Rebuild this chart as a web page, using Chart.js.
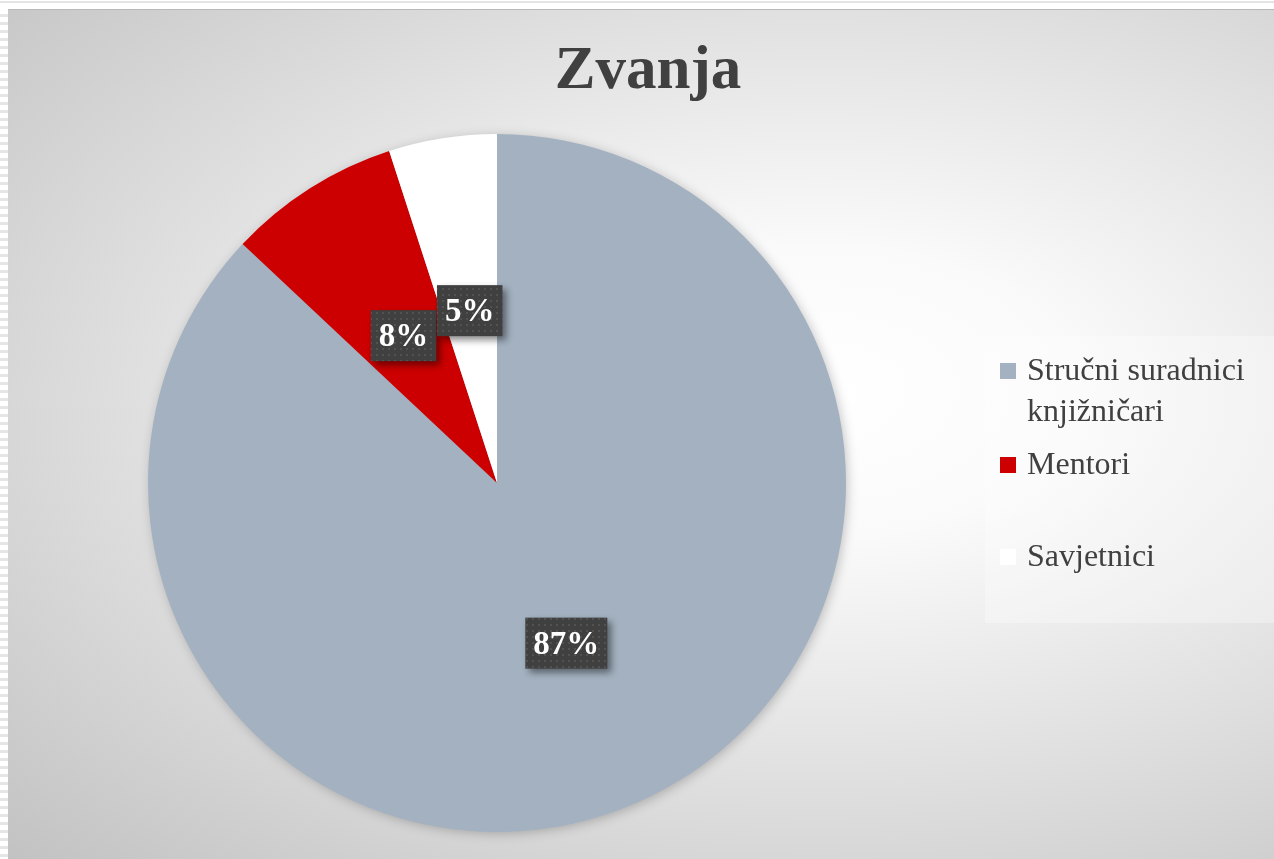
<!DOCTYPE html>
<html>
<head>
<meta charset="utf-8">
<title>Zvanja</title>
<script src="https://cdn.jsdelivr.net/npm/chart.js@4/dist/chart.umd.min.js"></script>
<style>
  html, body {
    margin: 0;
    padding: 0;
    width: 1274px;
    height: 859px;
    overflow: hidden;
    background: #fff;
  }
  .left-strip {
    position: absolute;
    left: 0;
    top: 9px;
    width: 8px;
    height: 850px;
    background: repeating-linear-gradient(to bottom, #ffffff 0 5px, #e6e6e6 5px 8px);
  }
  .top-line {
    position: absolute;
    left: 0;
    top: 1px;
    width: 1274px;
    height: 2px;
    background: #e4e4e4;
  }
  .chart-frame {
    position: absolute;
    left: 8px;
    top: 9px;
    width: 1266px;
    height: 850px;
    border-top: 1px solid #b9b9b9;
    box-sizing: border-box;
    background: radial-gradient(ellipse farthest-corner at 64% 45%, #ffffff 0%, #fafafa 22%, #c2c2c2 100%);
  }
</style>
</head>
<body>
<div class="top-line"></div>
<div class="left-strip"></div>
<div class="chart-frame">
  <canvas id="zvanjaChart" width="1266" height="849"></canvas>
</div>
<script>
// data
const categories = ['Stručni suradnici knjižničari', 'Mentori', 'Savjetnici'];
const shares = [87, 8, 5];
const sliceColors = ['#a3b1c0', '#cc0000', '#ffffff'];

const chartTitle = 'Zvanja';
const textDark = '#404040';
const serif = '"Liberation Serif", "DejaVu Serif", serif';

// title centred over the whole frame, not just the pie area
const frameTitle = {
  id: 'frameTitle',
  afterDraw(chart) {
    const ctx = chart.ctx;
    ctx.save();
    ctx.font = 'bold 61px ' + serif;
    ctx.fillStyle = textDark;
    ctx.textAlign = 'center';
    ctx.textBaseline = 'alphabetic';
    ctx.fillText(chartTitle, 640, 78);
    ctx.restore();
  },
};

// pie gets a soft shadow under it
const pieShadow = {
  id: 'pieShadow',
  beforeDatasetsDraw(chart) {
    const arc = chart.getDatasetMeta(0).data[0];
    if (!arc) return;
    const ctx = chart.ctx;
    ctx.save();
    ctx.shadowColor = 'rgba(0, 0, 0, 0.25)';
    ctx.shadowBlur = 12;
    ctx.shadowOffsetX = 2;
    ctx.shadowOffsetY = 2;
    ctx.fillStyle = '#a3b1c0';
    ctx.beginPath();
    ctx.arc(arc.x, arc.y, arc.outerRadius - 1, 0, Math.PI * 2);
    ctx.fill();
    ctx.restore();
  },
};

// dark boxes with percentage labels
const boxLabels = {
  id: 'boxLabels',
  afterDatasetsDraw(chart) {
    const ctx = chart.ctx;
    const meta = chart.getDatasetMeta(0);
    const total = shares.reduce((a, b) => a + b, 0);

    const tile = document.createElement('canvas');
    tile.width = 6;
    tile.height = 6;
    const tctx = tile.getContext('2d');
    tctx.fillStyle = '#404040';
    tctx.fillRect(0, 0, 6, 6);
    tctx.fillStyle = '#525252';
    tctx.fillRect(2, 2, 2, 2);
    const dots = ctx.createPattern(tile, 'repeat');

    ctx.save();
    ctx.font = 'bold 33px ' + serif;
    ctx.textAlign = 'center';
    ctx.textBaseline = 'middle';
    meta.data.forEach((arc, i) => {
      const pos = arc.tooltipPosition();
      const text = Math.round((shares[i] / total) * 100) + '%';
      const w = ctx.measureText(text).width + 16;
      const h = 51;

      ctx.save();
      ctx.shadowColor = 'rgba(0, 0, 0, 0.45)';
      ctx.shadowBlur = 7;
      ctx.shadowOffsetX = 4;
      ctx.shadowOffsetY = 4;
      ctx.fillStyle = dots;
      ctx.fillRect(pos.x - w / 2, pos.y - h / 2, w, h);
      ctx.restore();

      ctx.fillStyle = '#ffffff';
      ctx.fillText(text, pos.x, pos.y + 2);
    });
    ctx.restore();
  },
};

// legend on the right, laid out like the office chart
const legendBox = { x: 977, y: 326, w: 289, h: 287 };
const legendRowY = [370, 464, 556];
const legendLineH = 41;
const rightLegend = {
  id: 'rightLegend',
  afterDraw(chart) {
    const ctx = chart.ctx;
    ctx.save();
    ctx.fillStyle = 'rgba(255, 255, 255, 0.3)';
    ctx.fillRect(legendBox.x, legendBox.y, legendBox.w, legendBox.h);

    ctx.font = '32px ' + serif;
    ctx.textBaseline = 'alphabetic';
    ctx.textAlign = 'left';
    categories.forEach((label, i) => {
      // word wrap
      const words = label.split(' ');
      const lines = [];
      let line = '';
      words.forEach((word) => {
        const test = line ? line + ' ' + word : word;
        if (ctx.measureText(test).width > 245 && line) {
          lines.push(line);
          line = word;
        } else {
          line = test;
        }
      });
      lines.push(line);

      const base = legendRowY[i];
      ctx.fillStyle = sliceColors[i];
      ctx.fillRect(992, base - 17, 16, 16);
      ctx.fillStyle = textDark;
      lines.forEach((ln, j) => {
        ctx.fillText(ln, 1019, base + j * legendLineH);
      });
    });
    ctx.restore();
  },
};

new Chart(document.getElementById('zvanjaChart'), {
  type: 'pie',
  data: {
    labels: categories,
    datasets: [
      {
        data: shares,
        backgroundColor: sliceColors,
        borderWidth: 0,
      },
    ],
  },
  options: {
    responsive: false,
    animation: false,
    layout: {
      padding: { top: 124, right: 288, bottom: 27, left: 0 },
    },
    plugins: {
      legend: { display: false },
      tooltip: { enabled: false },
      title: { display: false },
    },
  },
  plugins: [pieShadow, boxLabels, rightLegend, frameTitle],
});
</script>
</body>
</html>
